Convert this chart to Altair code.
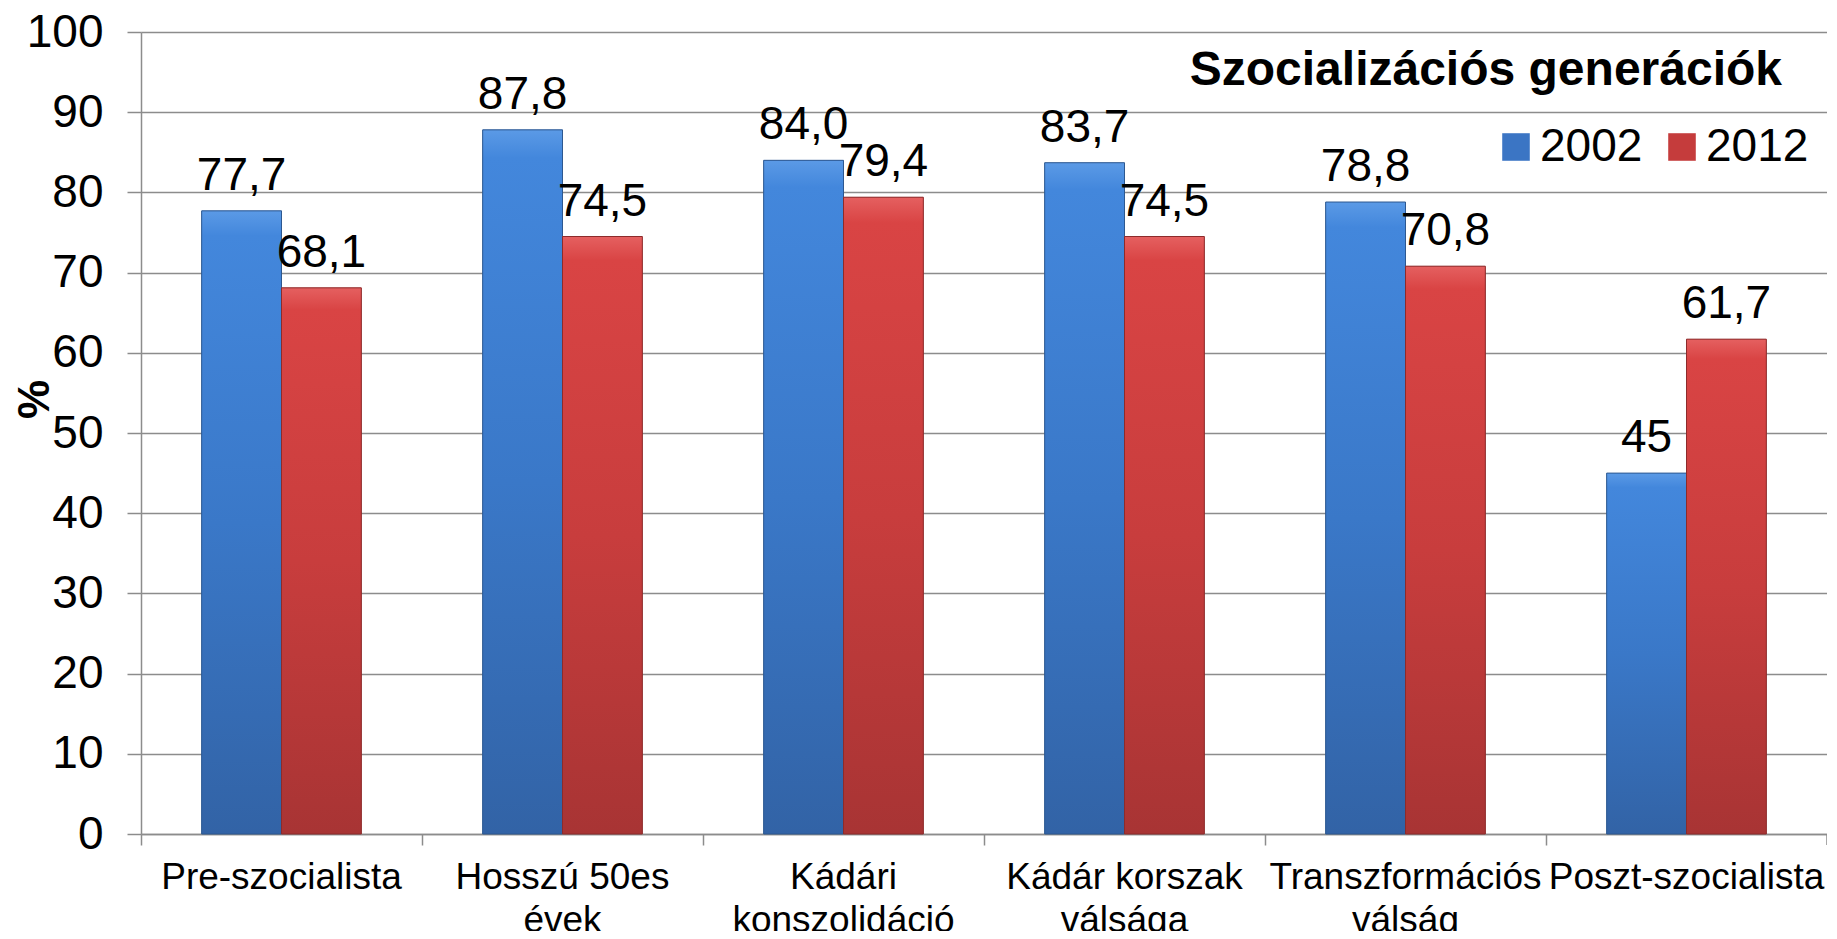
import altair as alt
import pandas as pd

FONT = "Liberation Sans, Arial, sans-serif"

categories = ["Pre-szocialista", "Hosszú 50es|évek", "Kádári|konszolidáció",
              "Kádár korszak|válsága", "Transzformációs|válság", "Poszt-szocialista"]
series = ["2002", "2012"]
values_2002 = [77.7, 87.8, 84.0, 83.7, 78.8, 45.0]
values_2012 = [68.1, 74.5, 79.4, 74.5, 70.8, 61.7]
labels_2002 = ["77,7", "87,8", "84,0", "83,7", "78,8", "45"]
labels_2012 = ["68,1", "74,5", "79,4", "74,5", "70,8", "61,7"]
legend_title = "Szocializációs generációk"
y_ticks = list(range(0, 101, 10))

rows = []
for c, v1, v2, l1, l2 in zip(categories, values_2002, values_2012, labels_2002, labels_2012):
    rows.append({"cat": c, "series": "2002", "value": v1, "label": l1})
    rows.append({"cat": c, "series": "2012", "value": v2, "label": l2})
df = pd.DataFrame(rows)

W, H = 1686, 802
GRAY = "#8c8c8c"

blue_grad = alt.Gradient(
    gradient="linear", x1=0, x2=0, y1=0, y2=1,
    stops=[alt.GradientStop(color="#5b9ae6", offset=0),
           alt.GradientStop(color="#4387dc", offset=0.04),
           alt.GradientStop(color="#3a78c8", offset=0.5),
           alt.GradientStop(color="#3263a6", offset=1)])
red_grad = alt.Gradient(
    gradient="linear", x1=0, x2=0, y1=0, y2=1,
    stops=[alt.GradientStop(color="#e56060", offset=0),
           alt.GradientStop(color="#d94444", offset=0.04),
           alt.GradientStop(color="#c83d3d", offset=0.5),
           alt.GradientStop(color="#a83434", offset=1)])

base = alt.Chart(df).encode(
    x=alt.X("cat:N", sort=categories,
            scale=alt.Scale(paddingInner=0, paddingOuter=0),
            axis=alt.Axis(title=None, bandPosition=0, tickSize=11, tickColor=GRAY,
                          domainColor=GRAY, domainWidth=1.5, tickWidth=1.5,
                          labelAngle=0, labelFont=FONT, labelFontSize=37,
                          labelColor="black", labelLineHeight=43, labelPadding=14,
                          labelLimit=500, labelOverlap=False, labelBound=False,
                          labelFlush=False,
                          labelExpr="split(datum.label, '|')", grid=False)),
    xOffset=alt.XOffset("series:N", sort=series,
                        scale=alt.Scale(domain=series, paddingInner=0, paddingOuter=0.76)),
    y=alt.Y("value:Q", scale=alt.Scale(domain=[0, 100], nice=False),
            axis=alt.Axis(values=y_ticks, grid=True, gridColor=GRAY, gridWidth=1.5,
                          tickColor=GRAY, tickSize=14, tickWidth=1.5,
                          domainColor=GRAY, domainWidth=1.5,
                          labelFont=FONT, labelFontSize=46, labelColor="black",
                          labelPadding=24,
                          title="%", titleFont=FONT, titleFontSize=44,
                          titleFontWeight="bold", titleColor="black",
                          titleAngle=270, titleX=-106, titleY=367,
                          titleAlign="center", titleBaseline="middle")),
)

bars = base.mark_bar().encode(
    color=alt.Color("series:N",
                    scale=alt.Scale(domain=series, range=["#3b75c4", "#c53c3c"]),
                    legend=alt.Legend(orient="none", legendX=1352, legendY=92,
                                      direction="horizontal", title=None,
                                      labelFont=FONT, labelFontSize=46,
                                      labelColor="black", symbolType="square",
                                      symbolSize=760, symbolStrokeWidth=0,
                                      columnPadding=16, labelOffset=1, padding=0))
)

blue_bars = base.transform_filter(alt.datum.series == "2002").mark_bar(
    fill=blue_grad, stroke="#2d5890", strokeWidth=1)
red_bars = base.transform_filter(alt.datum.series == "2012").mark_bar(
    fill=red_grad, stroke="#8c2b2b", strokeWidth=1)

texts = base.mark_text(dy=-21, baseline="alphabetic", align="center",
                       font=FONT, fontSize=46, color="black").encode(text="label:N")

title_layer = alt.Chart(alt.Data(values=[{"t": legend_title}])).mark_text(
    align="right", baseline="alphabetic", font=FONT, fontSize=48,
    fontWeight="bold", color="black").encode(
    x=alt.value(1641), y=alt.value(53), text="t:N")

end_tick = alt.Chart(alt.Data(values=[{"t": 1}])).mark_rule(
    color=GRAY, strokeWidth=1.5).encode(
    x=alt.value(W), y=alt.value(H), y2=alt.value(H + 11))

chart = alt.layer(bars, blue_bars, red_bars, texts, title_layer, end_tick).properties(
    width=W, height=H,
    autosize=alt.AutoSizeParams(type="none"),
    padding={"left": 133, "top": 24, "right": 0, "bottom": 97},
).configure_view(stroke=None)

chart.save("out.html", embed_options={"renderer": "svg", "actions": False})
